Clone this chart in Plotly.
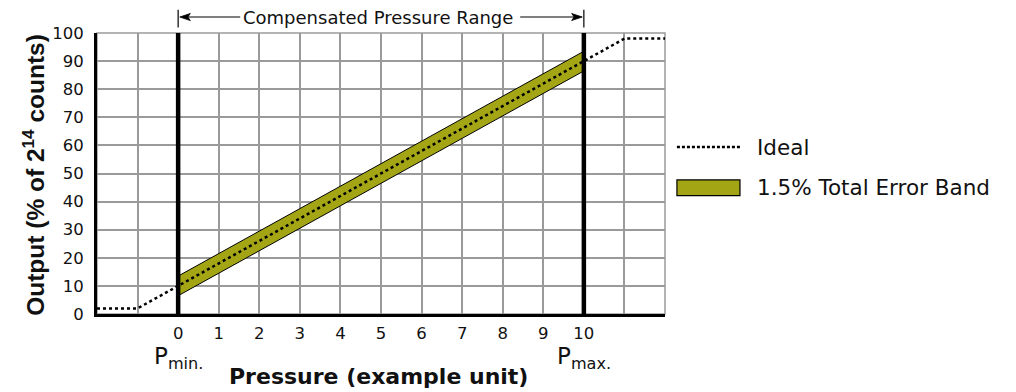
import plotly.graph_objects as go

# ---- data ----
ideal_pressure = [-2, -1, 0, 10, 11, 12]
ideal_output = [2, 2, 10, 90, 98, 98]
band_pressure = [0, 10]
band_lower = [6.5, 86.5]
band_upper = [13.5, 93.5]
x_ticks = list(range(0, 11))
y_ticks = list(range(0, 101, 10))
p_min, p_max = 0, 10

FONT = "DejaVu Sans, Liberation Sans, Arial, sans-serif"
FONT_Y = "Liberation Sans, Arial, sans-serif"
TXT = "#111"
OLIVE = "#a3a515"
GRID = "#9a9a9a"

fig = go.Figure()

# error band polygon
fig.add_trace(go.Scatter(
    x=band_pressure + band_pressure[::-1],
    y=band_upper + band_lower[::-1],
    fill="toself", fillcolor=OLIVE, mode="lines",
    line=dict(color="black", width=1), showlegend=False, hoverinfo="skip"))

# ideal line
fig.add_trace(go.Scatter(
    x=ideal_pressure, y=ideal_output, mode="lines",
    line=dict(color="black", width=2.5, dash="3px,3px"),
    showlegend=False))

YC = 1.0569  # vertical position of range annotation (paper)
shapes = []
shapes.append(dict(type="rect", xref="paper", yref="paper", x0=0, x1=1, y0=0, y1=1,
                   line=dict(color=GRID, width=1.5), layer="below"))
for xv in (p_min, p_max):
    shapes.append(dict(type="line", xref="x", yref="y", x0=xv, x1=xv, y0=0, y1=100,
                       line=dict(color="black", width=4.5)))
for xv in (p_min, p_max):
    shapes.append(dict(type="line", xref="x", yref="paper", x0=xv, x1=xv, y0=1.02, y1=1.083,
                       line=dict(color="black", width=1.2)))
# range arrows
shapes.append(dict(type="line", xref="x", yref="paper", x0=p_min + 0.2, x1=p_min + 1.53, y0=YC, y1=YC,
                   line=dict(color="black", width=1.2)))
shapes.append(dict(type="line", xref="x", yref="paper", x0=p_max - 1.57, x1=p_max - 0.2, y0=YC, y1=YC,
                   line=dict(color="black", width=1.2)))
hw, hh = 0.3, 0.0125
shapes.append(dict(type="path", xref="x", yref="paper",
                   path=f"M {p_min + 0.04},{YC} L {p_min + hw},{YC + hh} L {p_min + hw - 0.06},{YC} L {p_min + hw},{YC - hh} Z",
                   fillcolor="black", line=dict(color="black", width=0.8)))
shapes.append(dict(type="path", xref="x", yref="paper",
                   path=f"M {p_max - 0.04},{YC} L {p_max - hw},{YC + hh} L {p_max - hw + 0.06},{YC} L {p_max - hw},{YC - hh} Z",
                   fillcolor="black", line=dict(color="black", width=0.8)))
# legend marks
shapes.append(dict(type="line", xref="paper", yref="paper", x0=1.021, x1=1.135, y0=0.594, y1=0.594,
                   line=dict(color="black", width=2.5, dash="3px,2px")))
shapes.append(dict(type="rect", xref="paper", yref="paper", x0=1.021, x1=1.132, y0=0.421, y1=0.477,
                   fillcolor=OLIVE, line=dict(color="black", width=1.2)))

annotations = []
annotations.append(dict(text="Compensated Pressure Range", x=(p_min + p_max) / 2 - 0.07, y=YC,
                        xref="x", yref="paper", showarrow=False, xanchor="center", yanchor="middle",
                        font=dict(family=FONT, size=18, color=TXT)))
annotations.append(dict(text="P<sub>min.</sub>", x=p_min, y=-0.095, xref="x", yref="paper",
                        showarrow=False, xanchor="center", yanchor="top",
                        font=dict(family=FONT, size=23, color=TXT)))
annotations.append(dict(text="P<sub>max.</sub>", x=p_max, y=-0.095, xref="x", yref="paper",
                        showarrow=False, xanchor="center", yanchor="top",
                        font=dict(family=FONT, size=23, color=TXT)))
annotations.append(dict(text="Ideal", x=1.158, y=0.594, xref="paper", yref="paper",
                        xanchor="left", yanchor="middle", showarrow=False,
                        font=dict(family=FONT, size=21.5, color=TXT)))
annotations.append(dict(text="1.5% Total Error Band", x=1.158, y=0.449, xref="paper", yref="paper",
                        xanchor="left", yanchor="middle", showarrow=False,
                        font=dict(family=FONT, size=21.5, color=TXT)))
annotations.append(dict(text="<b>Pressure (example unit)</b>", x=0.495, y=-0.221,
                        xref="paper", yref="paper", xanchor="center", yanchor="middle",
                        showarrow=False, font=dict(family=FONT, size=22, color=TXT)))
annotations.append(dict(text="<b>Output (% of 2<sup>14</sup> counts)</b>", x=-0.111, y=0.495,
                        xref="paper", yref="paper", xanchor="center", yanchor="middle",
                        textangle=-90, showarrow=False,
                        font=dict(family=FONT_Y, size=24.5, color=TXT)))

fig.update_layout(
    width=1016, height=392,
    margin=dict(l=97, r=351, t=33, b=78),
    paper_bgcolor="white", plot_bgcolor="white",
    shapes=shapes, annotations=annotations,
    showlegend=False,
    font=dict(family=FONT, color=TXT),
    xaxis=dict(range=[-2, 12], tickvals=x_ticks,
               showgrid=True, gridcolor=GRID, gridwidth=1.5, zeroline=False,
               minor=dict(dtick=1, tick0=0, showgrid=True, gridcolor=GRID, gridwidth=1.5, ticks=""),
               showline=True, linecolor="black", linewidth=3, ticks="",
               ticklabelstandoff=2,
               tickfont=dict(family=FONT, size=16.5, color=TXT)),
    yaxis=dict(range=[0, 100], tickvals=y_ticks,
               showgrid=True, gridcolor=GRID, gridwidth=1.5, zeroline=False,
               showline=True, linecolor="black", linewidth=3, ticks="",
               ticklabelstandoff=7,
               tickfont=dict(family=FONT, size=16.5, color=TXT)),
)

fig.write_html("out.html", config={"displayModeBar": False},
               post_script="document.body.style.margin='0';")
